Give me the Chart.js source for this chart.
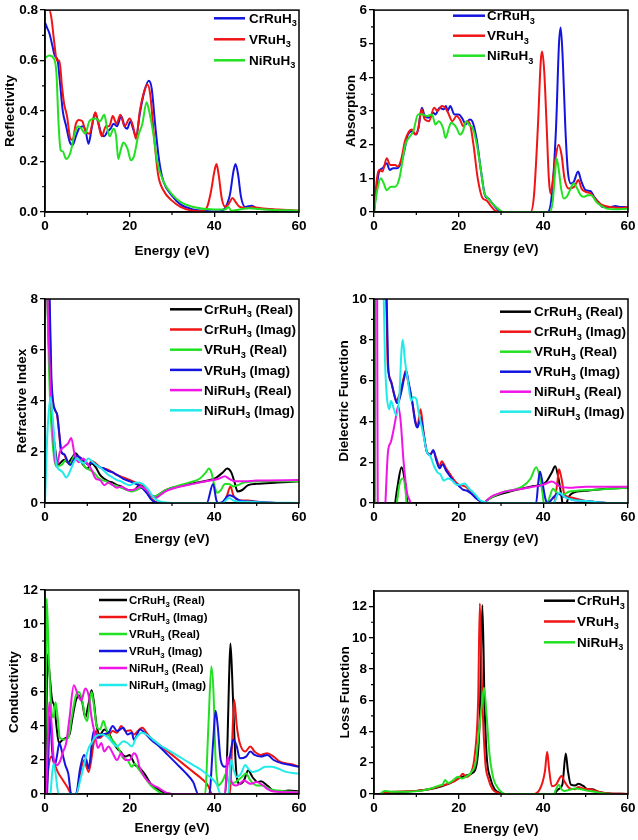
<!DOCTYPE html>
<html>
<head>
<meta charset="utf-8">
<script src="https://cdn.jsdelivr.net/npm/chart.js@4.4.0/dist/chart.umd.min.js"></script>
<style>
  html, body { margin: 0; padding: 0; background: #fff; }
  #wrap { position: relative; width: 638px; height: 840px; overflow: hidden; }
  #wrap canvas { position: absolute; }
</style>
</head>
<body>
<div id="wrap">
  <canvas id="cRefl"></canvas>
  <canvas id="cAbs"></canvas>
  <canvas id="cRefr"></canvas>
  <canvas id="cDiel"></canvas>
  <canvas id="cCond"></canvas>
  <canvas id="cLoss"></canvas>
</div>
<script>
/* ── data: [energy (eV), value] ── */

// Reflectivity
const reflCr = [[0,0.75],[0.5,0.73],[1,0.71],[1.6,0.67],[2.3,0.62],[3,0.6],[3.5,0.52],[4.2,0.40],[5,0.34],[5.8,0.28],[6.5,0.265],[7.3,0.3],[8,0.33],[9,0.34],[9.6,0.32],[10.3,0.27],[11,0.33],[11.8,0.39],[12.5,0.36],[13.3,0.31],[14,0.30],[14.8,0.32],[15.5,0.33],[16.2,0.35],[17,0.34],[18,0.38],[18.8,0.34],[19.4,0.33],[20.2,0.36],[20.8,0.33],[21.5,0.30],[22.5,0.40],[23.5,0.48],[24.5,0.52],[25.2,0.49],[26,0.35],[27,0.2],[28,0.12],[30,0.065],[32,0.03],[35,0.01],[38,0.004],[41,0.002],[42.5,0.015],[43.7,0.07],[44.5,0.16],[45,0.19],[45.6,0.15],[46.3,0.06],[47.3,0.02],[48.8,0.025],[50,0.015],[53,0.01],[57,0.005],[60,0.003]];
const reflV  = [[0,0.8],[1,0.8],[1.5,0.77],[2.2,0.67],[2.8,0.6],[3.4,0.6],[4,0.5],[4.5,0.43],[5.2,0.38],[6,0.29],[6.5,0.285],[7.3,0.35],[8,0.365],[8.8,0.36],[9.6,0.32],[10.5,0.31],[11.3,0.36],[11.9,0.395],[12.6,0.35],[13.4,0.30],[14.4,0.34],[15.2,0.34],[16,0.38],[16.9,0.35],[17.8,0.385],[18.8,0.34],[20,0.37],[20.8,0.34],[21.5,0.29],[22.4,0.40],[23.3,0.47],[24.2,0.505],[24.9,0.46],[25.7,0.31],[26.7,0.15],[28,0.085],[30,0.045],[32,0.02],[34.5,0.006],[37,0.003],[38.3,0.02],[39.2,0.08],[40,0.16],[40.5,0.19],[41,0.15],[41.8,0.05],[42.6,0.02],[43.5,0.035],[44.3,0.055],[45,0.04],[46,0.02],[47.8,0.015],[49,0.02],[51,0.015],[55,0.01],[60,0.005]];
const reflNi = [[0,0.61],[1,0.62],[2,0.61],[2.7,0.55],[3.2,0.35],[3.7,0.245],[4.2,0.24],[5,0.21],[6,0.235],[7,0.31],[7.8,0.34],[8.6,0.33],[9.5,0.31],[10.5,0.36],[12,0.37],[13,0.36],[14,0.385],[14.7,0.33],[15.3,0.3],[16.2,0.33],[16.8,0.30],[17.3,0.21],[17.8,0.24],[18.5,0.275],[19.5,0.25],[20.3,0.205],[21,0.22],[22,0.30],[23,0.35],[24,0.435],[24.6,0.40],[25.5,0.32],[26.5,0.2],[28,0.12],[30,0.07],[32,0.04],[35,0.02],[40,0.01],[42.5,0.01],[43.3,0.02],[44,0.005],[46,0.01],[48,0.015],[52,0.01],[60,0.005]];

// Absorption
const absCr = [[0,0],[0.7,0.8],[1.2,1.2],[2,1.3],[3,1.45],[3.7,1.25],[4.5,1.3],[5.5,1.3],[6.5,1.5],[7.3,1.9],[8,2.3],[9,2.4],[10,2.3],[10.5,2.5],[11.3,3.1],[12,2.85],[13,2.8],[14,2.95],[14.5,2.9],[15.5,3.1],[16.5,3.05],[17,3.15],[17.4,3.0],[18,3.15],[19,2.9],[20,2.9],[21,2.75],[21.6,2.6],[22.6,2.75],[23.2,2.7],[24.2,2.2],[25.3,1.2],[26.2,0.5],[27,0.4],[28,0.25],[29,0.1],[30,0],[41,0],[42,0.5],[43,2.5],[43.7,5.0],[44.1,5.48],[44.6,4.5],[45.2,2.5],[45.8,1.2],[46.5,0.85],[47.2,0.9],[48.2,1.2],[49,0.9],[50,0.65],[51.2,0.62],[52,0.45],[53,0.3],[54,0.15],[56,0.15],[57,0.18],[58,0.15],[60,0.15]];
const absV  = [[0,0],[0.7,1.0],[1.2,1.25],[2,1.2],[3,1.6],[3.8,1.4],[5,1.4],[5.6,1.35],[6.5,1.6],[7.3,2.1],[8.3,2.4],[9,2.45],[9.7,2.3],[10.5,2.5],[11.2,3.05],[12,2.75],[13,2.7],[14.2,3.1],[15,3.0],[16,3.15],[16.8,3.1],[17.5,2.95],[18.5,2.7],[19.5,2.85],[20.5,2.7],[21,2.55],[22,2.7],[22.7,2.6],[23.5,2.0],[24.5,1.0],[25.7,0.4],[26.5,0.35],[27.5,0.2],[28.5,0.05],[29.5,0],[37,0],[37.8,0.5],[38.7,2.5],[39.4,4.5],[39.7,4.77],[40.2,4.2],[40.8,2.5],[41.3,1.0],[41.7,0.55],[42.3,1.0],[43,1.7],[43.6,2.0],[44.3,1.7],[45,1.0],[46,0.7],[47.3,0.75],[48.3,0.95],[49,0.7],[50,0.6],[51.2,0.55],[52.5,0.35],[54,0.2],[56,0.15],[58,0.12],[60,0.15]];
const absNi = [[0,0],[0.7,0.6],[1.6,1.0],[2.3,0.85],[3,0.65],[4,0.75],[5,0.75],[6,1.0],[6.7,1.5],[7.4,2.0],[8.5,2.25],[9.3,2.4],[10.4,2.9],[11.5,2.9],[12.5,2.85],[13.7,2.9],[14.5,2.6],[15.3,2.7],[16.3,2.5],[16.9,2.2],[17.7,2.5],[18.2,2.65],[19.5,2.5],[20.3,2.3],[21,2.4],[21.8,2.7],[22.4,2.6],[23.3,2.5],[24.3,2.0],[25.3,1.2],[26,0.6],[27,0.4],[28,0.25],[29.3,0.1],[30.5,0],[41.5,0],[42.2,0.3],[42.8,1.2],[43.1,1.6],[43.6,1.3],[44.2,0.7],[44.8,0.4],[45.5,0.45],[46.3,0.65],[47.1,0.85],[48,0.7],[48.8,0.5],[49.5,0.45],[50.5,0.5],[51.3,0.5],[52.5,0.3],[53.5,0.2],[55,0.1],[57,0.08],[60,0.1]];

// Refractive index
const refCrRe = [[0.3,12],[0.6,8],[1.2,5],[1.8,3],[2.5,2],[3,1.5],[3.8,1.6],[4.5,1.7],[5.5,1.6],[6.5,1.8],[7.2,1.95],[8,1.8],[9,1.5],[10,1.35],[11,1.55],[12,1.4],[13,1.1],[14,0.95],[15,0.85],[16,0.8],[17,0.7],[18,0.65],[19,0.55],[20,0.5],[21,0.5],[22,0.65],[23,0.7],[24,0.5],[25,0.3],[26,0.25],[27,0.35],[28.5,0.5],[30,0.6],[33,0.7],[36,0.8],[39,0.9],[40.5,1.0],[42,1.2],[43,1.35],[44,1.2],[44.8,0.8],[45.5,0.45],[46.5,0.5],[48,0.7],[50,0.75],[55,0.8],[60,0.85]];
const refCrIm = [[0.7,12],[1.0,8],[1.4,5],[1.8,4],[2.5,3.6],[2.8,3.5],[3.3,2.8],[3.8,2.0],[4.5,1.9],[5.3,1.6],[6,1.5],[6.8,1.7],[7.5,1.85],[8.5,1.75],[9.5,1.6],[10.3,1.5],[11,1.65],[12,1.55],[13,1.4],[14,1.35],[15,1.3],[16,1.2],[17,1.1],[18.5,1.0],[20,0.9],[21.5,0.8],[22.5,0.7],[24,0.45],[25,0.2],[26,0.05],[27,0],[42,0],[43,0.3],[43.8,0.65],[44.5,0.3],[46,0.1],[48,0.1],[50,0.05],[55,0],[60,0]];
const refVRe  = [[0.3,12],[0.7,7],[1.2,4],[2,2],[2.5,1.5],[3,1.45],[4,1.5],[5,1.7],[5.8,1.5],[7,1.85],[8.5,1.7],[9.5,1.4],[10.5,1.3],[11.5,1.2],[12.5,1.0],[13.5,0.9],[14.5,0.85],[15.5,0.75],[16.5,0.7],[18,0.6],[19.5,0.5],[20.5,0.45],[21.5,0.5],[23,0.6],[24.5,0.4],[25.5,0.25],[26.5,0.3],[28.5,0.5],[31,0.65],[34,0.8],[36.5,0.95],[38,1.2],[38.7,1.35],[39.3,1.2],[40,0.7],[40.7,0.4],[41.5,0.5],[42.5,0.75],[43.5,0.75],[44.5,0.65],[45.5,0.7],[47,0.8],[52,0.85],[60,0.85]];
const refVIm  = [[0.8,12],[1.1,8],[1.5,5],[1.9,4],[2.5,3.6],[2.9,3.45],[3.4,2.7],[3.9,2.0],[4.6,1.9],[5.4,1.6],[6,1.5],[6.8,1.7],[7.5,1.85],[8.5,1.75],[9.5,1.6],[10.3,1.5],[11,1.6],[12,1.5],[13,1.4],[14,1.35],[15,1.25],[16,1.2],[17,1.1],[18.5,0.95],[20,0.85],[21.5,0.75],[22.5,0.65],[24,0.4],[25,0.15],[26,0.03],[27,0],[38.2,0],[39.7,0.75],[40.5,0.1],[41,0],[42,0.05],[43.5,0.3],[44.5,0.25],[46,0.1],[50,0.05],[55,0],[60,0]];
const refNiRe = [[0.2,12],[0.6,8],[1.2,5],[1.8,3],[2.3,1.8],[2.75,1.42],[3.5,2.0],[4.5,2.2],[5.5,2.35],[6.2,2.55],[7,1.9],[8,1.6],[9,1.75],[10,1.55],[11,1.3],[12,0.95],[13,0.9],[14,0.7],[15,0.8],[16,0.7],[17,0.6],[18,0.65],[19,0.55],[20,0.5],[21.5,0.55],[22.5,0.65],[24,0.5],[25.5,0.25],[26.2,0.2],[27.5,0.35],[29,0.5],[32,0.65],[35,0.75],[38,0.85],[41,0.95],[42.5,1.05],[43.5,0.95],[45,0.85],[47,0.85],[50,0.88],[60,0.9]];
const refNiIm = [[0,0],[0.5,2.5],[0.9,3.6],[1.3,4.15],[2,3.0],[2.7,1.5],[3.5,1.3],[4.2,1.2],[5,1.0],[5.8,1.2],[6.8,1.6],[7.5,1.75],[8.5,1.6],[9.2,1.55],[10.2,1.75],[11,1.65],[12,1.5],[13,1.4],[14,1.25],[15,1.1],[16,1.0],[17,0.9],[18,0.85],[19,0.75],[20,0.7],[21.5,0.8],[23,0.75],[24.5,0.5],[25.5,0.25],[26.5,0.1],[28,0.03],[30,0],[42,0],[43,0.15],[43.5,0.2],[44.5,0.1],[46,0.05],[48,0.05],[52,0.02],[60,0]];

// Dielectric function
const dieCrRe = [[0,30],[0.35,-3],[4.5,-1],[5,0],[5.7,1.0],[6.5,1.75],[7.2,1.2],[7.8,0.2],[8.3,-1],[25,-0.3],[26.5,0.1],[31,0.5],[37,0.8],[40.5,1.0],[42,1.5],[42.8,1.8],[43.5,1.3],[44.3,0.3],[44.8,-0.3],[45.5,0],[46,0.3],[47,0.5],[50,0.6],[55,0.7],[60,0.75]];
const dieCrIm = [[2.6,14],[2.9,10],[3.2,7],[3.5,6.3],[4,6.0],[4.8,5.3],[5.3,5.0],[5.8,5.2],[6.3,5.5],[7.2,6.3],[7.5,6.5],[8,6.0],[9,5.0],[9.8,4.0],[10.3,3.8],[11,4.6],[11.7,3.5],[12.5,2.5],[13.3,2.4],[14,2.55],[14.7,2.2],[15.5,1.8],[16,2.05],[17,1.7],[18,1.4],[19,1.1],[20,0.9],[21,0.85],[22,0.75],[23,0.5],[24,0.3],[25,0.1],[26,0],[42.5,0],[43.3,1.0],[43.7,1.65],[44.3,1.2],[45,0.4],[46,0.3],[48,0.2],[50,0.1],[52,0.05],[55,0],[60,0]];
const dieVRe  = [[0,30],[0.3,-3],[5,-0.5],[5.4,0],[6,0.9],[6.8,1.2],[7.5,0.5],[8,-1],[25,-0.3],[26,0],[30,0.5],[35,0.8],[37,1.2],[38.3,1.75],[39,1.4],[39.8,0.5],[40.3,-0.3],[41,0],[41.5,0.3],[42.3,0.7],[43.2,0.5],[44.5,0.4],[46,0.55],[48,0.6],[52,0.65],[60,0.75]];
const dieVIm  = [[2.7,14],[3.0,10],[3.3,7],[3.6,6.2],[4.1,5.9],[4.9,5.2],[5.4,4.9],[5.9,5.0],[6.4,5.4],[7.2,6.2],[7.6,6.5],[8.1,6.0],[9,5.0],[9.8,3.9],[10.3,3.7],[11,4.2],[11.7,3.4],[12.5,2.5],[13.3,2.35],[14,2.6],[14.7,2.1],[15.5,1.7],[16.2,1.9],[17,1.6],[18,1.3],[19,1.0],[20,0.85],[21,0.65],[22,0.6],[23,0.45],[24,0.25],[25,0.1],[26,0],[38.3,0],[38.8,1.0],[39.2,1.55],[39.8,1.0],[40.5,0.2],[41,0],[42.5,0.3],[43.5,0.45],[45,0.3],[47,0.15],[50,0.1],[55,0],[60,0]];
const dieNiRe = [[0.5,30],[1.0,-3],[2.5,-1],[2.7,0],[3.3,2.5],[4,3.0],[5,4.0],[5.7,4.75],[6.3,4.0],[7,2.0],[7.8,0.5],[8.5,0.1],[9.5,-0.5],[25.5,-0.3],[26.5,0.1],[30,0.5],[35,0.7],[40,0.9],[42,1.05],[44,0.8],[46,0.75],[50,0.8],[60,0.8]];
const dieNiIm = [[2.0,14],[2.3,10],[2.6,7],[3.0,5.3],[3.6,4.6],[4,5.0],[4.7,4.6],[5.3,4.3],[6,5.3],[6.5,7.5],[6.8,8.0],[7.3,7.0],[8,6.0],[8.8,5.0],[9.3,5.2],[10,5.1],[10.5,4.5],[11,4.0],[11.7,3.3],[12.5,2.5],[13.3,2.3],[14.2,1.8],[15,1.5],[15.7,1.4],[16.5,1.1],[17.5,1.2],[18.5,1.1],[19.5,0.9],[20.5,0.9],[21.3,0.95],[22.5,0.7],[24,0.4],[25,0.15],[26,0.05],[28,0],[42.5,0],[43.3,0.4],[43.8,0.5],[45,0.3],[47,0.15],[50,0.1],[55,0],[60,0]];

// Conductivity
const conCrRe = [[0,0],[0.3,4],[0.6,8.2],[1.1,7],[1.7,5.5],[2.2,5.2],[2.7,4],[3.3,3],[4.2,3.2],[5,3.3],[5.8,3.5],[6.5,4.5],[7.3,5.5],[8,5.8],[8.8,5.4],[9.5,4.5],[10.2,5.2],[11,6.1],[11.5,5.5],[12.2,4.0],[13,3.5],[14,3.8],[15,3.6],[16,3.1],[17,2.7],[17.8,2.5],[19,2.2],[20,2.3],[20.5,2.1],[21.3,1.7],[22,1.6],[23.5,1.2],[25,0.6],[26.5,0.3],[28,0.1],[30,0],[42.6,0],[43.1,3],[43.5,7],[43.8,8.85],[44.2,7],[44.8,3],[45.3,1],[46,0.6],[47,0.8],[48,1.4],[49,1.0],[50.3,0.7],[51,0.75],[52.5,0.5],[54,0.2],[56,0.15],[57.5,0.2],[60,0.15]];
const conCrIm = [[0.3,0],[0.8,1.5],[1.5,2.2],[2.2,1.8],[3,1.3],[4,0.9],[5.3,0.4],[6.3,0],[7.5,0],[8.3,1.2],[9.3,2.0],[9.8,1.6],[10.3,1.3],[11.5,3.0],[12,3.7],[13,3.3],[14,3.5],[15,3.5],[16,3.7],[17,3.6],[18,4.0],[19,3.7],[20.2,3.75],[21,3.5],[22.3,3.8],[23,3.9],[24,3.6],[25,3.3],[27,2.9],[29,2.5],[31,2.1],[33,1.7],[35,1.3],[37,0.9],[38.5,0.5],[39.5,0],[43.7,0],[44.2,3],[44.7,5.55],[45.3,4.0],[46,3.0],[47.3,2.5],[48.5,2.8],[49.5,2.5],[51,2.3],[52.5,2.4],[54,2.2],[55.5,1.9],[57,1.8],[59,1.7],[60,1.6]];
const conVRe  = [[0,0],[0.2,6],[0.4,11.5],[0.9,8],[1.5,5],[2,4.5],[2.5,5.4],[3,4.5],[3.5,3.3],[4.5,3.2],[5.5,3.3],[6.3,4.5],[7.3,5.8],[8,6.0],[8.8,5.5],[9.5,4.5],[10,4.3],[10.5,5.3],[11,6.0],[11.5,5.3],[12.2,4.0],[13,3.8],[13.8,4.3],[14.5,3.8],[15.5,3.3],[16.5,3.0],[17.5,2.6],[18.5,2.1],[19.5,2.0],[20.5,1.6],[21.2,1.8],[22,1.5],[23.5,1.0],[25,0.5],[26.5,0.2],[28,0],[37.8,0],[38.6,4],[39.3,7.5],[39.8,6],[40.3,2],[41,0.5],[42,0.8],[42.8,1.2],[43.5,0.6],[45,0.7],[46.5,1.0],[47.5,1.2],[48.5,0.8],[50,0.5],[51.5,0.5],[53,0.3],[55,0.2],[60,0.1]];
const conVIm  = [[0.5,0],[0.9,3],[1.2,4.65],[1.7,2.5],[2.3,1.7],[2.8,2.2],[3.4,3.0],[4,2.5],[4.8,1.7],[5.5,1.2],[6.2,0],[7.3,0],[8.3,1.5],[9.2,2.3],[9.8,2.0],[10.3,1.5],[11.5,3.7],[12.5,3.3],[13.5,3.5],[15,3.6],[16,4.0],[17,3.7],[18.5,3.9],[19.5,3.5],[20.5,3.6],[21,3.2],[22.5,3.8],[23.5,3.6],[25,3.2],[27,2.8],[29,2.3],[31,1.8],[33,1.3],[35,0.7],[36.2,0],[38.8,0],[39.7,3],[40.3,4.9],[40.8,4],[41.5,2],[42.5,1.6],[43.5,2],[44.5,3.2],[45.3,2.8],[46,2.1],[47.5,2.2],[48.5,2.5],[49.5,2.3],[51,2.2],[52.5,2.3],[54,2.0],[56,1.8],[58,1.7],[60,1.6]];
const conNiRe = [[0.3,0],[0.7,3.5],[1.0,5.4],[1.6,4],[2,2.2],[2.8,1.7],[3.5,1.9],[4.3,2.5],[5,3.0],[5.8,4.5],[6.8,6.4],[7.8,5.8],[8.6,5.5],[9.5,6.2],[10.3,5.8],[11,4.5],[11.8,3.5],[12.5,2.7],[13.3,3.0],[14,2.5],[15,2.8],[16,2.4],[17,2.0],[18,2.4],[19,2.0],[20,2.0],[21,2.4],[21.7,2.2],[22.3,1.6],[23.5,1.0],[25,0.6],[26.5,0.4],[28.5,0.1],[30,0],[42.5,0],[42.8,1.0],[43.1,2.2],[43.5,1.8],[44,0.8],[45,0.5],[46,0.6],[47,0.8],[48.5,0.6],[50,0.7],[51.5,0.5],[52.5,0.3],[54,0.15],[60,0.1]];
const conNiIm = [[1.3,0],[2.0,1.8],[2.5,1.2],[3.2,0],[7.3,0],[8.5,1.0],[9.3,1.8],[10.3,2.7],[11,3.0],[12,3.4],[13.5,3.5],[15,3.3],[16,3.0],[17,2.8],[18.5,3.1],[19.5,3.0],[20.5,2.8],[21.5,3.3],[23,3.6],[24,3.5],[25.5,3.2],[27,2.9],[29,2.6],[31,2.3],[33,2.0],[35,1.7],[37,1.4],[39,1.0],[40.5,0.6],[41.5,0],[43.3,0],[43.7,1.5],[44,2.0],[44.5,1.5],[45.3,1.0],[46.3,1.2],[47.3,1.7],[48,1.5],[49,1.3],[50.5,1.4],[52,1.6],[53.5,1.6],[55,1.5],[57,1.3],[60,1.2]];

// Loss function
const lossCr = [[1.5,0],[2,0.05],[5,0.1],[10,0.2],[13,0.3],[16,0.5],[18,0.7],[20,1.0],[22,1.2],[23,1.3],[24.3,2],[25,5],[25.6,12.1],[26.1,6],[26.6,2.5],[27.5,1],[28.5,0.3],[30,0.05],[31,0],[42.5,0],[43.5,0.3],[44.5,0.6],[45.3,2.6],[45.8,1.5],[46.5,0.6],[47.5,0.55],[48.3,0.65],[49.5,0.5],[50.5,0.3],[51.5,0.3],[53,0.15],[55,0.05],[60,0]];
const lossV  = [[1.5,0],[2,0.05],[5,0.15],[10,0.2],[13,0.3],[15.5,0.5],[18,0.7],[20,1.0],[21,1.3],[21.7,1.1],[22.8,1.3],[23.8,2.5],[24.6,6],[25,12.2],[25.6,6],[26.3,2],[27,1],[28,0.3],[29.5,0.05],[30,0],[37.8,0],[39.5,0.5],[40.4,1.5],[40.9,2.7],[41.4,1.5],[42,0.5],[43,0.6],[44.3,1.15],[45,0.8],[46,0.4],[47.5,0.3],[48.2,0.45],[49.5,0.35],[51,0.3],[53,0.15],[55,0.05],[60,0]];
const lossNi = [[1.5,0],[2.5,0.2],[4,0.15],[8,0.15],[11,0.2],[14,0.4],[15.5,0.55],[16.2,0.6],[16.8,0.9],[17.5,0.7],[18.8,0.9],[19.8,1.1],[20.8,1.0],[22,1.15],[23,1.4],[24,2.0],[24.8,4.0],[25.5,5.8],[26,6.8],[26.6,5],[27.3,2.5],[28.2,1],[29.5,0.3],[30.5,0.05],[31,0],[42.5,0],[43,0.3],[43.6,0.6],[44.3,0.3],[45,0.2],[46,0.25],[47.5,0.35],[49,0.3],[50.5,0.2],[52,0.15],[54,0.05],[56,0]];

/* ── style ── */
const FONT = "'Liberation Sans', Arial, sans-serif";
const FS = 13.5;
const COL = {
  black: '#000000', red: '#f01414', green: '#22e022',
  blue: '#1414e0', magenta: '#f014e6', cyan: '#22eaea',
};

Chart.defaults.font.family = FONT;
Chart.defaults.font.weight = 'bold';
Chart.defaults.color = '#000';

/* ── frame + minor ticks ── */
const framePlugin = {
  id: 'frame',
  afterDraw(chart, args, o) {
    const { ctx, chartArea: a, scales: { x, y } } = chart;
    ctx.save();
    ctx.strokeStyle = '#000';
    ctx.lineWidth = 1.5;
    ctx.strokeRect(a.left, a.top, a.right - a.left, a.bottom - a.top);
    ctx.lineWidth = 1.2;
    ctx.beginPath();
    for (let v = 10; v < 60; v += 20) {
      const px = x.getPixelForValue(v);
      ctx.moveTo(px, a.bottom); ctx.lineTo(px, a.bottom + 3);
    }
    for (let v = o.step / 2; v < y.max - 1e-9; v += o.step) {
      const py = y.getPixelForValue(v);
      ctx.moveTo(a.left, py); ctx.lineTo(a.left - 3, py);
    }
    ctx.stroke();
    ctx.restore();
  }
};

/* ── legend with subscript ── */
const subLegend = {
  id: 'subLegend',
  afterDraw(chart, args, o) {
    const ctx = chart.ctx;
    ctx.save();
    ctx.textBaseline = 'middle';
    ctx.fillStyle = '#000';
    chart.data.datasets.forEach((ds, i) => {
      const y = o.y0 + i * o.dy;
      ctx.strokeStyle = ds.borderColor;
      ctx.lineWidth = 2.5;
      ctx.beginPath(); ctx.moveTo(o.x1, y); ctx.lineTo(o.x2, y); ctx.stroke();
      const [main, rest] = ds.label.split('₃');
      const big = `bold ${o.size}px ${FONT}`, small = `bold ${o.size * 0.68}px ${FONT}`;
      let tx = o.tx;
      ctx.font = big; ctx.fillText(main, tx, y + 1); tx += ctx.measureText(main).width;
      ctx.font = small; ctx.fillText('3', tx, y + 1 + o.size * 0.33); tx += ctx.measureText('3').width;
      ctx.font = big; ctx.fillText(rest, tx, y + 1);
    });
    ctx.restore();
  }
};

/* ── one panel ── */
function makePanel(p) {
  const cv = document.getElementById(p.id);
  const [cx, cy, cw] = p.box;
  const half = FS * 1.2 / 2;
  const ch = Math.round(p.xTitleY + half - cy);
  cv.width = cw; cv.height = ch;
  cv.style.left = cx + 'px'; cv.style.top = cy + 'px';
  const padL = p.yTitleX - half - cx;
  const yW = p.plot.l - cx - padL;
  const xH = cy + ch - p.plot.b;

  const tickFont = { size: FS, weight: 'bold', family: FONT };
  return new Chart(cv, {
    type: 'line',
    data: {
      // later series sit on top, as in the original
      datasets: p.series.map(([label, data, color], i) => ({
        label, data, borderColor: color, backgroundColor: color, order: -i,
        borderWidth: 2, pointRadius: 0, fill: false,
        cubicInterpolationMode: 'monotone',
      }))
    },
    options: {
      responsive: false, animation: false, events: [],
      layout: { autoPadding: false, padding: { left: padL, top: p.plot.t - cy, right: cx + cw - p.plot.r, bottom: 0 } },
      scales: {
        x: {
          type: 'linear', min: 0, max: 60,
          afterFit: s => { s.height = xH; },
          ticks: { stepSize: 20, padding: 1, maxRotation: 0, font: tickFont, color: '#000' },
          grid: { drawOnChartArea: false, tickLength: 5, color: '#000', lineWidth: 1.3 },
          border: { color: '#000', width: 1.5 },
          title: { display: true, text: 'Energy (eV)', font: tickFont, color: '#000', padding: 0 },
        },
        y: {
          min: 0, max: p.yMax,
          afterFit: s => { s.width = yW; },
          ticks: {
            stepSize: p.yStep, includeBounds: false, padding: 2, font: tickFont, color: '#000',
            callback: v => v.toFixed(p.dec),
          },
          grid: { drawOnChartArea: false, tickLength: 5, color: '#000', lineWidth: 1.3 },
          border: { color: '#000', width: 1.5 },
          title: { display: true, text: p.yLabel, font: tickFont, color: '#000', padding: 0 },
        }
      },
      plugins: {
        legend: { display: false },
        tooltip: { enabled: false },
        frame: { step: p.yStep },
        subLegend: {
          x1: p.leg.x1 - cx, x2: p.leg.x2 - cx, tx: p.leg.tx - cx,
          y0: p.leg.y0 - cy, dy: p.leg.dy, size: p.leg.size,
        },
      }
    },
    plugins: [framePlugin, subLegend]
  });
}

const threeCol = (cr, v, ni, c1) => [
  ['CrRuH₃', cr, c1], ['VRuH₃', v, COL.red], ['NiRuH₃', ni, COL.green],
];
const sixCol = (a, b, c, d, e, f) => [
  ['CrRuH₃ (Real)', a, COL.black], ['CrRuH₃ (Imag)', b, COL.red],
  ['VRuH₃ (Real)', c, COL.green], ['VRuH₃ (Imag)', d, COL.blue],
  ['NiRuH₃ (Real)', e, COL.magenta], ['NiRuH₃ (Imag)', f, COL.cyan],
];

makePanel({
  id: 'cRefl', box: [0, 0, 318], plot: { l: 45, t: 8, r: 299, b: 212 },
  yTitleX: 10, xTitleY: 251, yLabel: 'Reflectivity', yMax: 0.8, yStep: 0.2, dec: 1,
  series: threeCol(reflCr, reflV, reflNi, COL.blue),
  leg: { x1: 214, x2: 245, tx: 249, y0: 18.3, dy: 21, size: FS },
});
makePanel({
  id: 'cAbs', box: [318, 0, 320], plot: { l: 374, t: 8, r: 628, b: 212 },
  yTitleX: 351.5, xTitleY: 249, yLabel: 'Absorption', yMax: 6, yStep: 1, dec: 0,
  series: threeCol(absCr, absV, absNi, COL.blue),
  leg: { x1: 453, x2: 485, tx: 487, y0: 15.7, dy: 20, size: FS },
});
makePanel({
  id: 'cRefr', box: [0, 262, 318], plot: { l: 45, t: 299, r: 299, b: 503 },
  yTitleX: 22, xTitleY: 539, yLabel: 'Refractive Index', yMax: 8, yStep: 2, dec: 0,
  series: sixCol(refCrRe, refCrIm, refVRe, refVIm, refNiRe, refNiIm),
  leg: { x1: 170, x2: 202, tx: 204, y0: 309.3, dy: 20.2, size: FS },
});
makePanel({
  id: 'cDiel', box: [318, 262, 320], plot: { l: 374, t: 299, r: 628, b: 503 },
  yTitleX: 344, xTitleY: 539, yLabel: 'Dielectric Function', yMax: 10, yStep: 2, dec: 0,
  series: sixCol(dieCrRe, dieCrIm, dieVRe, dieVIm, dieNiRe, dieNiIm),
  leg: { x1: 500, x2: 531, tx: 534, y0: 311.7, dy: 20, size: FS },
});
makePanel({
  id: 'cCond', box: [0, 547, 318], plot: { l: 45, t: 590, r: 299, b: 794 },
  yTitleX: 14, xTitleY: 828, yLabel: 'Conductivity', yMax: 12, yStep: 2, dec: 0,
  series: sixCol(conCrRe, conCrIm, conVRe, conVIm, conNiRe, conNiIm),
  leg: { x1: 99, x2: 127, tx: 129, y0: 600, dy: 17, size: 11.5 },
});
makePanel({
  id: 'cLoss', box: [318, 547, 320], plot: { l: 374, t: 591, r: 628, b: 794 },
  yTitleX: 345, xTitleY: 829, yLabel: 'Loss Function', yMax: 13, yStep: 2, dec: 0,
  series: threeCol(lossCr, lossV, lossNi, COL.black),
  leg: { x1: 544, x2: 575, tx: 577, y0: 600.7, dy: 20.8, size: FS },
});
</script>
</body>
</html>
